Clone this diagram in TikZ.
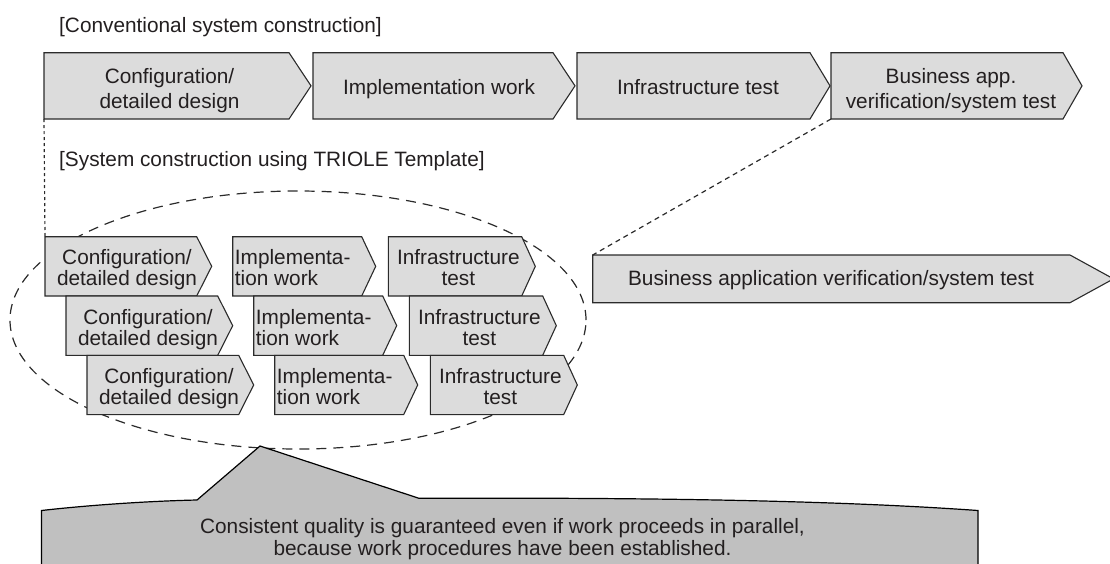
\documentclass[tikz,border=0pt]{standalone}
\usepackage{fontspec}
\setmainfont{Liberation Sans}
\definecolor{boxfill}{HTML}{DCDCDC}
\definecolor{callfill}{HTML}{C0C0C0}
\definecolor{txt}{HTML}{231F20}
\definecolor{edge}{HTML}{2B2B2B}
\newcommand\pbox[6]{%
  \draw[pboxst] (#2,#3) -- (#4,#3) -- (#5,{(#3+#6)/2}) -- (#4,#6) -- (#2,#6) -- cycle;
  \coordinate (#1-nw) at (#2,#3);
  \coordinate (#1-sw) at (#2,#6);}
\tikzset{
  pboxst/.style={fill=boxfill, draw=edge, line width=1.1pt, line join=miter},
  strutted/.style={execute at begin node={\rule{0pt}{15.5pt}}, execute at end node={\rule[-4.5pt]{0pt}{4.5pt}}},
  lbl/.style={strutted, text=txt, inner sep=0pt, align=center, font=\fontsize{20.8}{25}\selectfont},
  sml/.style={strutted, text=txt, inner sep=0pt, align=center, font=\fontsize{20.8}{21}\selectfont},
  smlleft/.style={strutted, text=txt, inner sep=0pt, align=left, anchor=west, font=\fontsize{20.8}{21}\selectfont},
  calltxt/.style={strutted, text=txt, inner sep=0pt, align=center, font=\fontsize{20.8}{21.7}\selectfont},
  ttl/.style={text=txt, inner sep=0pt, anchor=base west, font=\fontsize{20.8}{25}\selectfont},
  vdash/.style={draw=edge, line width=1.2pt, dash pattern=on 3pt off 3pt},
  ddash/.style={draw=edge, line width=1.2pt, dash pattern=on 5pt off 4pt},
  ovaldash/.style={draw=edge, line width=1.2pt, dash pattern=on 10pt off 7pt},
  callst/.style={fill=callfill, draw=black, line width=1.2pt, line join=miter}
}
\begin{document}
\begin{tikzpicture}[x=1pt,y=-1pt]
\useasboundingbox (0,0) rectangle (1110,563);
% titles
\node[ttl] (h1) at (59,32.3) {[Conventional system construction]};
\node[ttl] (h2) at (59,166.7) {[System construction using TRIOLE Template]};
% top row
\pbox{b1}{44}{52.7}{289}{311}{119}
\node[lbl] (t1) at (169.5,90.3) {Configuration/\\detailed design};
\pbox{b2}{313}{52.7}{553}{575}{119}
\node[lbl] (t2) at (439,89) {Implementation work};
\pbox{b3}{577}{52.7}{810}{830}{119}
\node[lbl] (t3) at (698,89) {Infrastructure test};
\pbox{b4}{831}{52.7}{1063}{1082}{119}
\node[lbl] (t4) at (951,90.3) {Business app.\\verification/system test};
% oval
\draw[ovaldash] (298,320) ellipse [x radius=288pt, y radius=129pt];
% parallel boxes
\pbox{c1}{45}{236.7}{196.7}{211.7}{296}
\node[sml] (ct1) at (127,270) {Configuration/\\detailed design};
\pbox{c2}{66}{296}{217.7}{232.7}{355.3}
\node[sml] (ct2) at (148,329.3) {Configuration/\\detailed design};
\pbox{c3}{87}{355.3}{238.7}{253.7}{414.6}
\node[sml] (ct3) at (169,388.6) {Configuration/\\detailed design};
\pbox{i1}{232.7}{236.7}{361.7}{375.7}{296}
\node[smlleft] (it1) at (234.7,270) {Implementa-\\tion work};
\pbox{i2}{253.7}{296}{382.7}{396.7}{355.3}
\node[smlleft] (it2) at (255.7,329.3) {Implementa-\\tion work};
\pbox{i3}{274.7}{355.3}{403.7}{417.7}{414.6}
\node[smlleft] (it3) at (276.7,388.6) {Implementa-\\tion work};
\pbox{f1}{388.3}{236.7}{521.7}{535.3}{296}
\node[sml] (ft1) at (458.3,270) {Infrastructure\\test};
\pbox{f2}{409.3}{296}{542.7}{556.3}{355.3}
\node[sml] (ft2) at (479.3,329.3) {Infrastructure\\test};
\pbox{f3}{430.3}{355.3}{563.7}{577.3}{414.6}
\node[sml] (ft3) at (500.3,388.6) {Infrastructure\\test};
% big box
\pbox{bb}{592.7}{255}{1070}{1113.5}{302.7}
\node[lbl] (bt) at (831,280.2) {Business application verification/system test};
% connectors
\draw[vdash] (b1-sw) -- (c1-nw);
\draw[ddash] (b4-sw) -- (bb-nw);
% callout
\draw[callst] (41.5,566) -- (41.5,510.5) .. controls (90,505) and (150,501) .. (197,500)
  -- (260,446) -- (419,498.3) .. controls (640,497.5) and (830,500) .. (978,510.5)
  -- (978,566) -- cycle;
\node[calltxt] (ct) at (502.5,539.5) {Consistent quality is guaranteed even if work proceeds in parallel,\\because work procedures have been established.};
\end{tikzpicture}
\end{document}
